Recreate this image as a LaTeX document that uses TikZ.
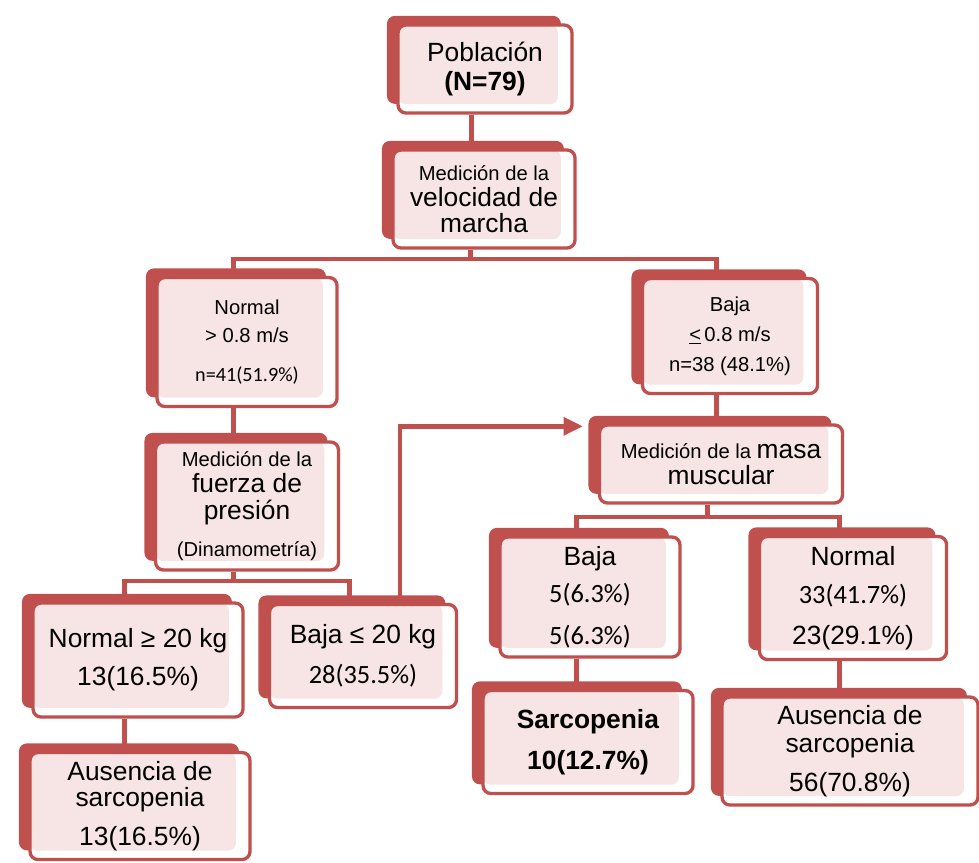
\documentclass[tikz,border=0pt]{standalone}
\usepackage{fontspec}
\setmainfont{Liberation Sans}
\newfontfamily\calibri{Carlito}
\usetikzlibrary{shadows,arrows.meta,backgrounds}
\definecolor{boxred}{RGB}{192,80,77}
\definecolor{boxpink}{RGB}{247,228,228}
\newcommand{\chico}{\fontsize{11.5}{14}\selectfont}
\newcommand{\grande}{\fontsize{15}{16}\selectfont}
\tikzset{box/.style = {rectangle, rounded corners=4.5pt, draw=boxred, line width=1.9pt, fill=white,
                       inner sep=2pt, align=center, font=\grande,
                       path picture={\fill[boxpink] (path picture bounding box.north west)
                         rectangle ([xshift=-8pt,yshift=5pt]path picture bounding box.south east);},
                       general shadow={fill=boxred, shadow xshift=-6.3pt, shadow yshift=5.2pt}},
         link/.style = {draw=boxred, line width=2.6pt}}

\begin{document}
\begin{tikzpicture}[x=0.02cm, y=-0.02cm, >={Triangle[length=11pt,width=10pt]}]
    \useasboundingbox (0,0) rectangle (979,862);
    % cajas
    \node[box, minimum width=3.48cm, minimum height=1.76cm] (pob) at (485,69) {Población\\[0.5pt]\textbf{(N=79)}};
    \node[box, minimum width=3.64cm, minimum height=1.96cm] (marcha) at (484,199) {{\chico Medición de la}\\[-1pt]velocidad de\\[-1.5pt]marcha};
    \node[box, font=\chico, minimum width=3.6cm, minimum height=2.58cm] (normvel) at (247,342) {Normal\\[2pt]> 0.8 m/s\\[8pt]{\calibri n=41(51.9\%)}};
    \node[box, font=\chico, minimum width=3.5cm, minimum height=2.3cm] (bajavel) at (730,336) {Baja\\[3pt]\underline{<}\,0.8 m/s\\[3pt]n=38 (48.1\%)};
    \node[box, minimum width=3.66cm, minimum height=2.56cm] (fuerza) at (247,506) {{\chico Medición de la}\\[-1.3pt]fuerza de\\[-0.7pt]presión\\[5pt]{\chico (Dinamometría)}};
    \node[box, minimum width=4.86cm, minimum height=1.56cm] (masa) at (721,464) {{\chico Medición de la }masa\\[-1.3pt]muscular};
    \node[box, minimum width=4.2cm, minimum height=2.28cm] (normfza) at (138,660) {Normal ≥ 20 kg\\[5.5pt]13(16.5\%)};
    \node[box, minimum width=3.74cm, minimum height=2.06cm] (bajafza) at (363,656) {Baja ≤ 20 kg\\[6.5pt]{\calibri 28(35.5\%)}};
    \node[box, minimum width=3.6cm, minimum height=2.4cm] (bajamasa) at (590,597) {Baja\\[5.5pt]{\calibri 5(6.3\%)}\\[7.5pt]{\calibri 5(6.3\%)}};
    \node[box, minimum width=3.74cm, minimum height=2.46cm] (normmasa) at (853,598) {Normal\\[5.5pt]{\calibri 33(41.7\%)}\\[7.5pt]23(29.1\%)};
    \node[box, minimum width=4.4cm, minimum height=2.14cm] (ausizq) at (140,806) {Ausencia de\\[-1.3pt]sarcopenia\\[6pt]13(16.5\%)};
    \node[box, minimum width=4.2cm, minimum height=2.06cm] (sarco) at (588,742) {\textbf{Sarcopenia}\\[7.5pt]\textbf{10(12.7\%)}};
    \node[box, minimum width=5.12cm, minimum height=2.16cm] (ausder) at (850,751) {Ausencia de\\sarcopenia\\[6pt]56(70.8\%)};
    \coordinate (bar1) at (470,259);
    \coordinate (bar2) at (233,581);
    \coordinate (bar3) at (708,517);
    % conectores
    \begin{scope}[on background layer]
    \draw[link] ([xshift=-.27cm]pob.south) -- ([xshift=-.27cm]pob.south |- marcha.north);
    \draw[link] ([xshift=-.27cm]marcha.south) -- ([xshift=-.27cm]marcha.south |- bar1);
    \draw[link] ([xshift=-.27cm]normvel.north) |- (bar1) -| ([xshift=-.27cm]bajavel.north);
    \draw[link] ([xshift=-.27cm]normvel.south) -- ([xshift=-.27cm]normvel.south |- fuerza.north);
    \draw[link] ([xshift=-.27cm]fuerza.south) -- ([xshift=-.27cm]fuerza.south |- bar2);
    \draw[link] ([xshift=-.27cm]normfza.north) |- (bar2) -| ([xshift=-.27cm]bajafza.north);
    \draw[link] ([xshift=-.27cm]normfza.south) -- ([xshift=-.27cm]normfza.south |- ausizq.north);
    \draw[link, ->] ([xshift=.74cm]bajafza.north) |- ([xshift=-.3cm, yshift=-.06cm]masa.north west);
    \draw[link] ([xshift=-.27cm]bajavel.south) -- ([xshift=-.27cm]bajavel.south |- masa.north);
    \draw[link] ([xshift=-.27cm]masa.south) -- ([xshift=-.27cm]masa.south |- bar3);
    \draw[link] ([xshift=-.27cm]bajamasa.north) |- (bar3) -| ([xshift=-.27cm]normmasa.north);
    \draw[link] ([xshift=-.27cm]bajamasa.south) -- ([xshift=-.27cm]bajamasa.south |- sarco.north);
    \draw[link] ([xshift=-.27cm]normmasa.south) -- ([xshift=-.27cm]normmasa.south |- ausder.north);
    \end{scope}
\end{tikzpicture}
\end{document}
